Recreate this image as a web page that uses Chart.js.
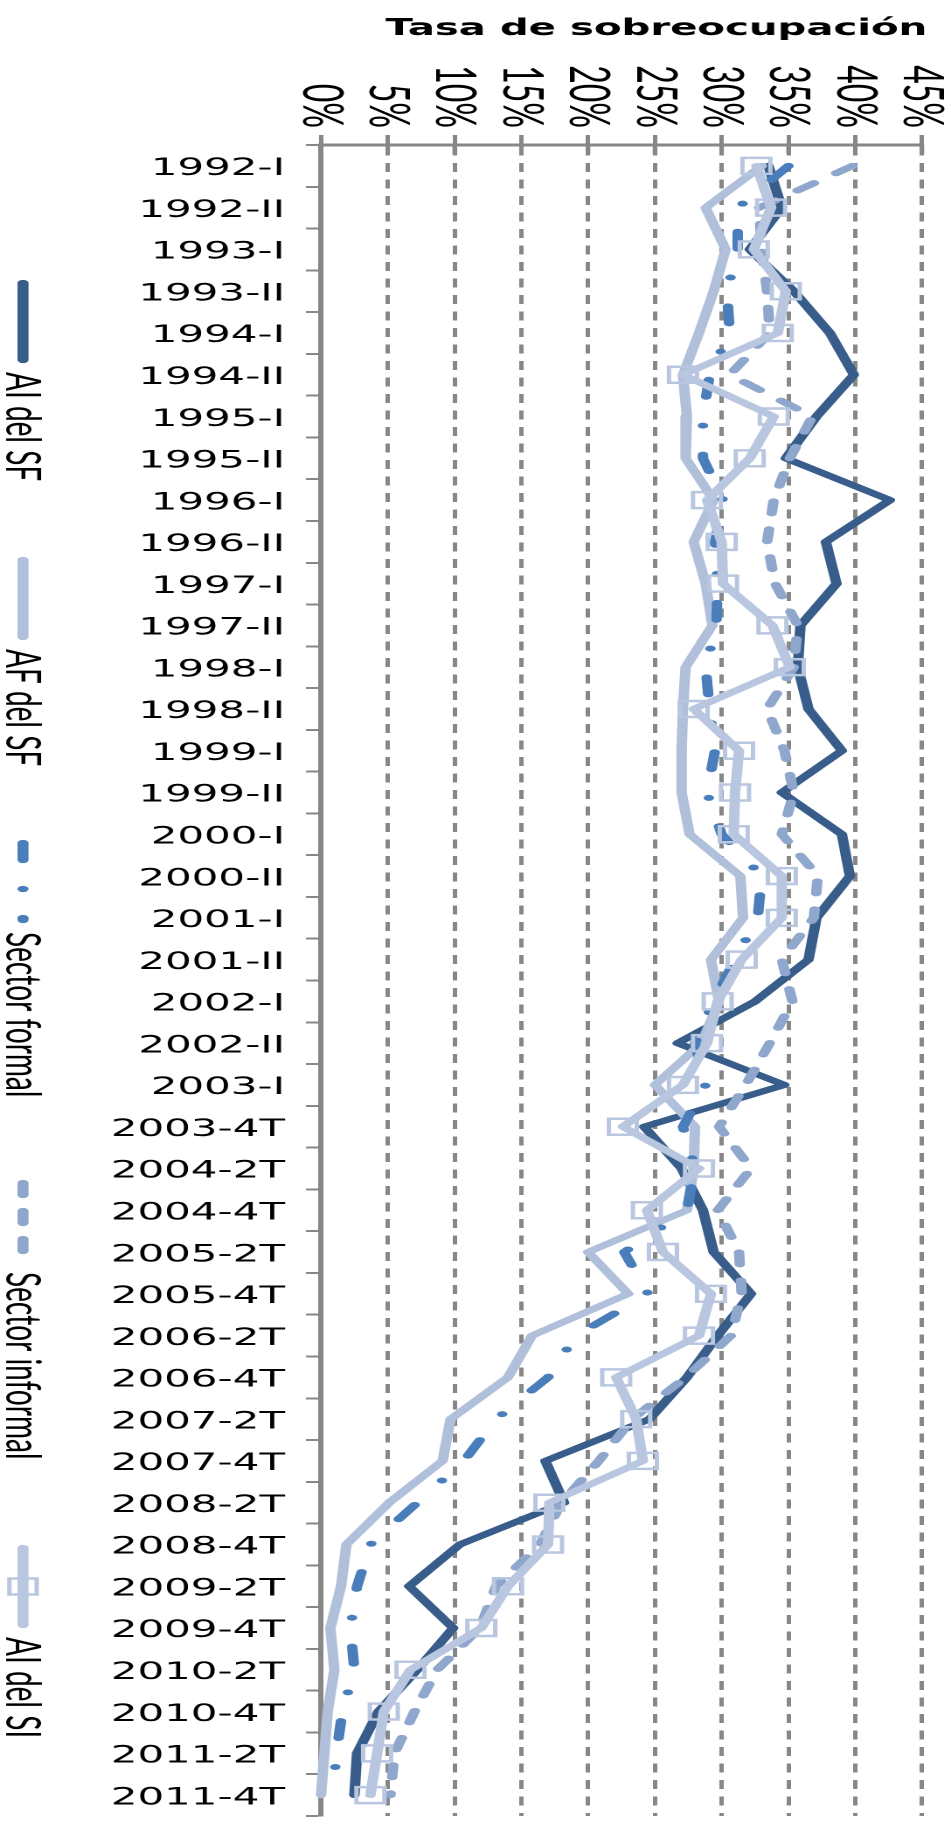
<!DOCTYPE html>
<html>
<head>
<meta charset="utf-8">
<script src="https://cdn.jsdelivr.net/npm/chart.js@4.4.1/dist/chart.umd.min.js"></script>
<style>
    html, body { margin: 0; padding: 0; background: #fff; }
    /* the source picture is a chart stretched sideways, so the canvas is too */
    #wrap {
        position: relative;
        width: 544px;
        height: 1832px;
        transform: scaleX(1.748162);
        transform-origin: 0 0;
    }
</style>
</head>
<body>
<div id="wrap"><canvas id="chart"></canvas></div>
<script>
const periods = [
    '1992-I', '1992-II', '1993-I', '1993-II', '1994-I', '1994-II', '1995-I', '1995-II',
    '1996-I', '1996-II', '1997-I', '1997-II', '1998-I', '1998-II', '1999-I', '1999-II',
    '2000-I', '2000-II', '2001-I', '2001-II', '2002-I', '2002-II', '2003-I', '2003-4T',
    '2004-2T', '2004-4T', '2005-2T', '2005-4T', '2006-2T', '2006-4T', '2007-2T', '2007-4T',
    '2008-2T', '2008-4T', '2009-2T', '2009-4T', '2010-2T', '2010-4T', '2011-2T', '2011-4T'
];

const aiSF = [
    33.5, 34.5, 32.1, 35.4, 38.1, 39.9, 37.1, 34.8, 42.6, 37.8, 38.6, 35.9, 35.7, 36.5, 39.0, 34.5,
    39.0, 39.6, 37.1, 36.5, 32.5, 26.7, 34.7, 24.2, 27.0, 28.6, 29.4, 32.2, 29.7, 27.4, 24.6, 16.8,
    18.2, 10.4, 6.6, 9.9, 7.2, 4.3, 2.7, 2.5
];
const afSF = [
    33.0, 28.8, 30.3, 29.4, 28.3, 27.1, 27.4, 27.3, 29.4, 27.9, 28.8, 29.3, 27.3, 27.1, 27.0, 27.0,
    27.6, 31.4, 31.6, 29.2, 29.8, 28.5, 25.0, 28.0, 27.9, 27.4, 20.0, 23.0, 15.8, 14.0, 9.7, 9.1,
    5.1, 1.9, 1.5, 0.7, 1.0, 0.5, 0.25, 0.0
];
const sectorFormal = [
    35.0, 31.2, 31.2, 30.4, 30.6, 29.1, 28.6, 28.6, 30.1, 29.5, 29.7, 29.6, 28.8, 29.1, 29.5, 28.9,
    30.0, 33.0, 32.7, 31.0, 29.4, 28.0, 28.8, 27.1, 28.0, 27.4, 22.7, 24.5, 19.1, 17.0, 13.1, 10.7,
    7.2, 3.7, 2.7, 2.2, 2.5, 1.6, 1.15, 0.9
];
const sectorInformal = [
    39.8, 32.8, 33.0, 33.4, 33.6, 30.6, 36.8, 35.1, 33.9, 33.4, 34.0, 35.7, 35.4, 33.4, 34.7, 35.4,
    34.5, 37.2, 36.9, 34.5, 35.3, 33.6, 31.8, 29.8, 32.2, 29.7, 31.3, 31.5, 30.7, 27.3, 23.3, 20.8,
    18.0, 16.4, 13.1, 11.9, 8.7, 7.0, 5.5, 5.2
];
const aiSI = [
    32.6, 33.7, 32.4, 34.8, 34.2, 27.1, 33.9, 32.1, 28.9, 30.0, 30.1, 33.8, 35.1, 27.9, 31.3, 31.0,
    30.9, 34.5, 34.5, 31.5, 29.7, 28.9, 27.1, 22.6, 28.3, 24.4, 25.6, 29.2, 28.3, 22.1, 23.6, 24.1,
    17.1, 17.0, 14.0, 12.0, 6.7, 4.7, 4.2, 3.7
];

const xTicks = [0, 5, 10, 15, 20, 25, 30, 35, 40, 45];
const seriesNames = ['AI del SF', 'AF del SF', 'Sector formal', 'Sector informal', 'AI del SI'];
const axisTitle = 'Tasa de sobreocupación';

const STRETCH = 951 / 544;
const GRAY = '#878787';
const LINE_W = 6;

// where each legend entry starts, top to bottom (page px)
const legendTops = [280, 557, 840, 1180, 1545];

function inner(px) {
    return px / STRETCH;
}

function makeLine(label, data, color, order, extra) {
    return Object.assign({
        label: label,
        data: data,
        borderColor: color,
        backgroundColor: color,
        borderWidth: LINE_W,
        pointRadius: 0,
        tension: 0,
        fill: false,
        clip: false,
        order: order,
        borderJoinStyle: 'round',
        borderCapStyle: 'round'
    }, extra || {});
}

const titlePlugin = {
    id: 'axisTitle',
    afterDraw(chart) {
        const ctx = chart.ctx;
        ctx.save();
        ctx.font = 'bold 23px "DejaVu Sans"';
        ctx.fillStyle = '#000';
        ctx.textAlign = 'right';
        ctx.textBaseline = 'alphabetic';
        ctx.fillText(axisTitle, chart.chartArea.right + 3, 35);
        ctx.restore();
    }
};

const xLabelsPlugin = {
    id: 'xLabels',
    afterDraw(chart) {
        const ctx = chart.ctx;
        const scale = chart.scales.x;
        const top = chart.chartArea.top;
        ctx.save();
        ctx.font = '32px Lato';
        ctx.fillStyle = '#000';
        ctx.strokeStyle = GRAY;
        ctx.lineWidth = 2.5;
        xTicks.forEach((v) => {
            const px = scale.getPixelForValue(v);
            // tick crosses the axis line
            ctx.beginPath();
            ctx.moveTo(px, top);
            ctx.lineTo(px, top + 9);
            ctx.stroke();

            ctx.save();
            ctx.translate(px, 128);
            ctx.rotate(Math.PI / 2);
            ctx.textAlign = 'right';
            ctx.textBaseline = 'middle';
            ctx.fillText(`${v}%`, 0, 0);
            ctx.restore();
        });
        ctx.restore();
    }
};

const legendPlugin = {
    id: 'sideLegend',
    afterDraw(chart) {
        const ctx = chart.ctx;
        const cx = inner(23);
        seriesNames.forEach((name, i) => {
            const ds = chart.data.datasets[i];
            const y0 = legendTops[i];
            ctx.save();
            ctx.strokeStyle = ds.borderColor;
            ctx.lineWidth = 6.3;
            ctx.lineCap = 'round';
            ctx.setLineDash(ds.borderDash || []);
            ctx.beginPath();
            ctx.moveTo(cx, y0 + 3);
            ctx.lineTo(cx, y0 + 80);
            ctx.stroke();

            if (ds.pointStyle === 'rect') {
                ctx.setLineDash([]);
                ctx.lineWidth = 2.5;
                ctx.strokeRect(cx - 7.8, y0 + 41.5 - 8, 15.6, 16);
            }

            ctx.translate(inner(21.5), y0 + 92);
            ctx.rotate(Math.PI / 2);
            ctx.font = '28px Lato';
            ctx.fillStyle = '#000';
            ctx.textAlign = 'left';
            ctx.textBaseline = 'middle';
            ctx.fillText(name, 0, 0);
            ctx.restore();
        });
    }
};

function main() {
    const datasets = [
        makeLine(seriesNames[0], aiSF, '#385D8A', 5),
        makeLine(seriesNames[1], afSF, '#B1C0DA', 4),
        makeLine(seriesNames[2], sectorFormal, '#4A7EBB', 3, { borderDash: [17, 29, 0.01, 29] }),
        makeLine(seriesNames[3], sectorInformal, '#8FA7CC', 2, { borderDash: [12, 16] }),
        makeLine(seriesNames[4], aiSI, '#B9C6DF', 1, {
            pointStyle: 'rect',
            pointRadius: 11.3,
            pointBorderWidth: 2.5,
            pointBorderColor: '#B9C6DF',
            pointBackgroundColor: 'rgba(0,0,0,0)'
        })
    ];

    new Chart(document.getElementById('chart'), {
        type: 'line',
        data: {
            labels: periods,
            datasets: datasets
        },
        options: {
            indexAxis: 'y',
            responsive: true,
            maintainAspectRatio: false,
            animation: false,
            devicePixelRatio: 2,
            layout: {
                padding: { left: 0, top: 0, right: 544 - inner(922), bottom: 16 }
            },
            plugins: {
                legend: { display: false },
                title: { display: false },
                tooltip: { enabled: false }
            },
            scales: {
                x: {
                    type: 'linear',
                    position: 'top',
                    min: 0,
                    max: 45,
                    afterFit: (scale) => {
                        scale.height = 145;
                        scale.paddingLeft = 0;
                        scale.paddingRight = 0;
                    },
                    ticks: { stepSize: 5, display: false },
                    grid: {
                        color: GRAY,
                        lineWidth: 2.5,
                        drawTicks: true,
                        tickLength: 10,
                        tickWidth: 2.5,
                        tickColor: GRAY
                    },
                    border: { display: true, color: GRAY, width: 3, dash: [9, 7.5] }
                },
                y: {
                    type: 'category',
                    position: 'left',
                    offset: true,
                    afterFit: (scale) => {
                        scale.width = inner(321);
                        // labels sit between the ticks, so no overflow room is needed
                        scale.paddingTop = 0;
                        scale.paddingBottom = 0;
                    },
                    ticks: {
                        autoSkip: false,
                        padding: 12,
                        labelOffset: 3,
                        color: '#000',
                        font: { family: 'DejaVu Sans', size: 24 }
                    },
                    grid: {
                        offset: true,
                        drawOnChartArea: false,
                        drawTicks: true,
                        tickLength: 8.6,
                        tickWidth: 2,
                        tickColor: GRAY
                    },
                    border: { display: true, color: GRAY, width: 3 }
                }
            }
        },
        plugins: [titlePlugin, xLabelsPlugin, legendPlugin]
    });
}

main();
</script>
</body>
</html>
